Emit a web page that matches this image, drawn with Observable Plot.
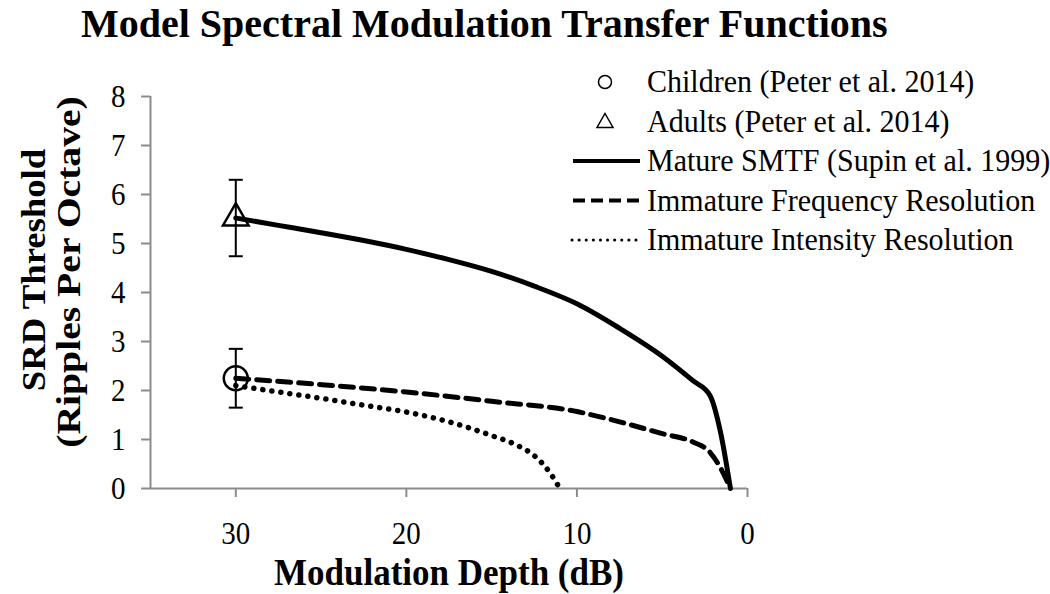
<!DOCTYPE html>
<html><head><meta charset="utf-8">
<script src="https://cdn.jsdelivr.net/npm/d3@7"></script>
<script src="https://cdn.jsdelivr.net/npm/@observablehq/plot@0.6"></script>
<style>
body{margin:0;background:#fff;}
#wrap{position:relative;width:1050px;height:594px;font-family:"Liberation Serif","Times New Roman",serif;}
#wrap svg{position:absolute;left:0;top:0;}
#title{position:absolute;left:81px;top:4px;font-size:40px;font-weight:bold;line-height:1;white-space:nowrap;z-index:2;}
</style></head><body>
<div id="wrap"><div id="title">Model Spectral Modulation Transfer Functions</div></div>
<script>
// ---- data ----
const matureDepth = [30, 27.5, 25, 22.5, 20, 17.5, 15, 12.5, 10, 7.5, 5, 3.2, 2.2, 1.6, 1.0];
const matureSRD   = [5.52, 5.37, 5.22, 5.06, 4.88, 4.67, 4.43, 4.13, 3.77, 3.27, 2.70, 2.20, 1.90, 1.18, 0];
const freqDepth = [30, 25, 20, 15, 10, 7.5, 5, 3.2, 2.2, 1.6, 1.0];
const freqSRD   = [2.25, 2.12, 1.97, 1.78, 1.57, 1.36, 1.12, 0.95, 0.74, 0.43, 0];
const intDepth = [30, 27.5, 25, 22.5, 20, 17.5, 15, 13.5, 12.5, 11.6, 11.0];
const intSRD   = [2.10, 1.97, 1.84, 1.70, 1.56, 1.36, 1.08, 0.88, 0.67, 0.33, 0];
const groups      = ["Children (Peter et al. 2014)", "Adults (Peter et al. 2014)"];
const groupDepth  = [30, 30];
const groupSRD    = [2.25, 5.52];
const groupErr    = [0.60, 0.78];
const xTicks = [30, 20, 10, 0];
const yTicks = [0, 1, 2, 3, 4, 5, 6, 7, 8];
const legendLabels = ["Children (Peter et al. 2014)", "Adults (Peter et al. 2014)",
  "Mature SMTF (Supin et al. 1999)", "Immature Frequency Resolution", "Immature Intensity Resolution"];
const xLabel = "Modulation Depth (dB)";
const yLabel1 = "SRD Threshold";
const yLabel2 = "(Ripples Per Octave)";

const mk = (xs, ys) => xs.map((x, i) => ({x, y: ys[i]}));
const mature = mk(matureDepth, matureSRD);
const freq = mk(freqDepth, freqSRD);
const intens = mk(intDepth, intSRD);
const pts = groups.map((g, i) => ({g, x: groupDepth[i], y: groupSRD[i], lo: groupSRD[i] - groupErr[i], hi: groupSRD[i] + groupErr[i]}));

const cap = {draw(ctx) { ctx.moveTo(-7, 0); ctx.lineTo(7, 0); }};
const axisGray = "#8c8c8c";
const SY = 1.08; // vertical glyph stretch seen in the reference

const plot = Plot.plot({
  width: 1050, height: 594,
  marginLeft: 150, marginRight: 303, marginTop: 96, marginBottom: 106,
  style: {fontFamily: "'Liberation Serif','Times New Roman',serif", background: "transparent", overflow: "visible"},
  x: {domain: [35, 0]},
  y: {domain: [0, 8]},
  marks: [
    Plot.ruleX([35], {stroke: axisGray, strokeWidth: 2}),
    Plot.ruleY([0], {stroke: axisGray, strokeWidth: 2}),
    Plot.axisX({ticks: xTicks, tickSize: 9, tickPadding: 24, stroke: axisGray, strokeWidth: 2, fill: "black", fontSize: 29, label: null, tickFormat: d => d}),
    Plot.axisY({ticks: yTicks, tickSize: 9, tickPadding: 16, stroke: axisGray, strokeWidth: 2, fill: "black", fontSize: 29, label: null}),
    Plot.line(mature, {x: "x", y: "y", stroke: "black", strokeWidth: 5, curve: "monotone-x"}),
    Plot.line(freq, {x: "x", y: "y", stroke: "black", strokeWidth: 5, strokeDasharray: "13,8", curve: "monotone-x"}),
    Plot.line(intens, {x: "x", y: "y", stroke: "black", strokeWidth: 5.5, strokeDasharray: "0.1,9", strokeLinecap: "round", curve: "monotone-x"}),
    Plot.ruleX(pts, {x: "x", y1: "lo", y2: "hi", stroke: "black", strokeWidth: 2}),
    Plot.dot(pts, {x: "x", y: "lo", symbol: cap, r: 5, stroke: "black", strokeWidth: 2}),
    Plot.dot(pts, {x: "x", y: "hi", symbol: cap, r: 5, stroke: "black", strokeWidth: 2}),
    Plot.dot(pts.slice(0, 1), {x: "x", y: "y", symbol: "circle", r: 12, stroke: "black", strokeWidth: 2.5, fill: "none", ariaLabel: "marker"}),
    Plot.dot(pts.slice(1, 2), {x: "x", y: "y", symbol: "triangle", r: 9.5, stroke: "black", strokeWidth: 2.5, fill: "none", ariaLabel: "marker"})
  ]
});
document.getElementById("wrap").appendChild(plot);

const s = d3.select(plot);
// slight vertical stretch of tick labels
s.selectAll('g[aria-label="x-axis tick label"] text, g[aria-label="y-axis tick label"] text').each(function() {
  const t = this.getAttribute("transform") || "";
  this.setAttribute("transform", t + ` scale(1,${SY})`);
});
// drop shadow on markers
const defs = s.insert("defs", ":first-child");
const f = defs.append("filter").attr("id", "shadow").attr("x", "-50%").attr("y", "-50%").attr("width", "200%").attr("height", "200%");
f.append("feDropShadow").attr("dx", 0).attr("dy", 4).attr("stdDeviation", 3).attr("flood-color", "#000").attr("flood-opacity", 0.45);
s.selectAll('g[aria-label="marker"]').attr("filter", "url(#shadow)");

// overlay: axis titles + legend
const ov = d3.select("#wrap").append("svg").attr("width", 1050).attr("height", 594)
  .style("font-family", "'Liberation Serif','Times New Roman',serif");
ov.append("text").attr("transform", `translate(449,585) scale(1,${SY})`).attr("text-anchor", "middle")
  .attr("font-size", 35).attr("font-weight", "bold").text(xLabel);
ov.append("text").attr("transform", `translate(45,270) rotate(-90) scale(${SY},1)`).attr("text-anchor", "middle")
  .attr("font-size", 34).attr("font-weight", "bold").text(yLabel1);
ov.append("text").attr("transform", `translate(80,272) rotate(-90) scale(${SY * 1.08},1)`).attr("text-anchor", "middle")
  .attr("font-size", 34).attr("font-weight", "bold").text(yLabel2);

const base0 = 92, step = 39.5;
legendLabels.forEach((t, i) => {
  const b = base0 + i * step, c = b - 10;
  ov.append("text").attr("transform", `translate(647,${b}) scale(1,${SY})`).attr("font-size", 30).text(t);
  if (i === 0) ov.append("circle").attr("cx", 605).attr("cy", c).attr("r", 6.5).attr("fill", "none").attr("stroke", "black").attr("stroke-width", 1.5);
  if (i === 1) ov.append("path").attr("d", `M605,${c-8}L613,${c+6}L597,${c+6}Z`).attr("fill", "none").attr("stroke", "black").attr("stroke-width", 1.5);
  if (i >= 2) {
    const ln = ov.append("line").attr("x1", 573).attr("x2", 640).attr("y1", c).attr("y2", c).attr("stroke", "black").attr("stroke-width", 4);
    if (i === 3) ln.attr("stroke-dasharray", "12,6");
    if (i === 4) ln.attr("stroke-width", 3).attr("stroke-dasharray", "0.1,7").attr("stroke-linecap", "round").attr("x1", 572);
  }
});
</script>
</body></html>
